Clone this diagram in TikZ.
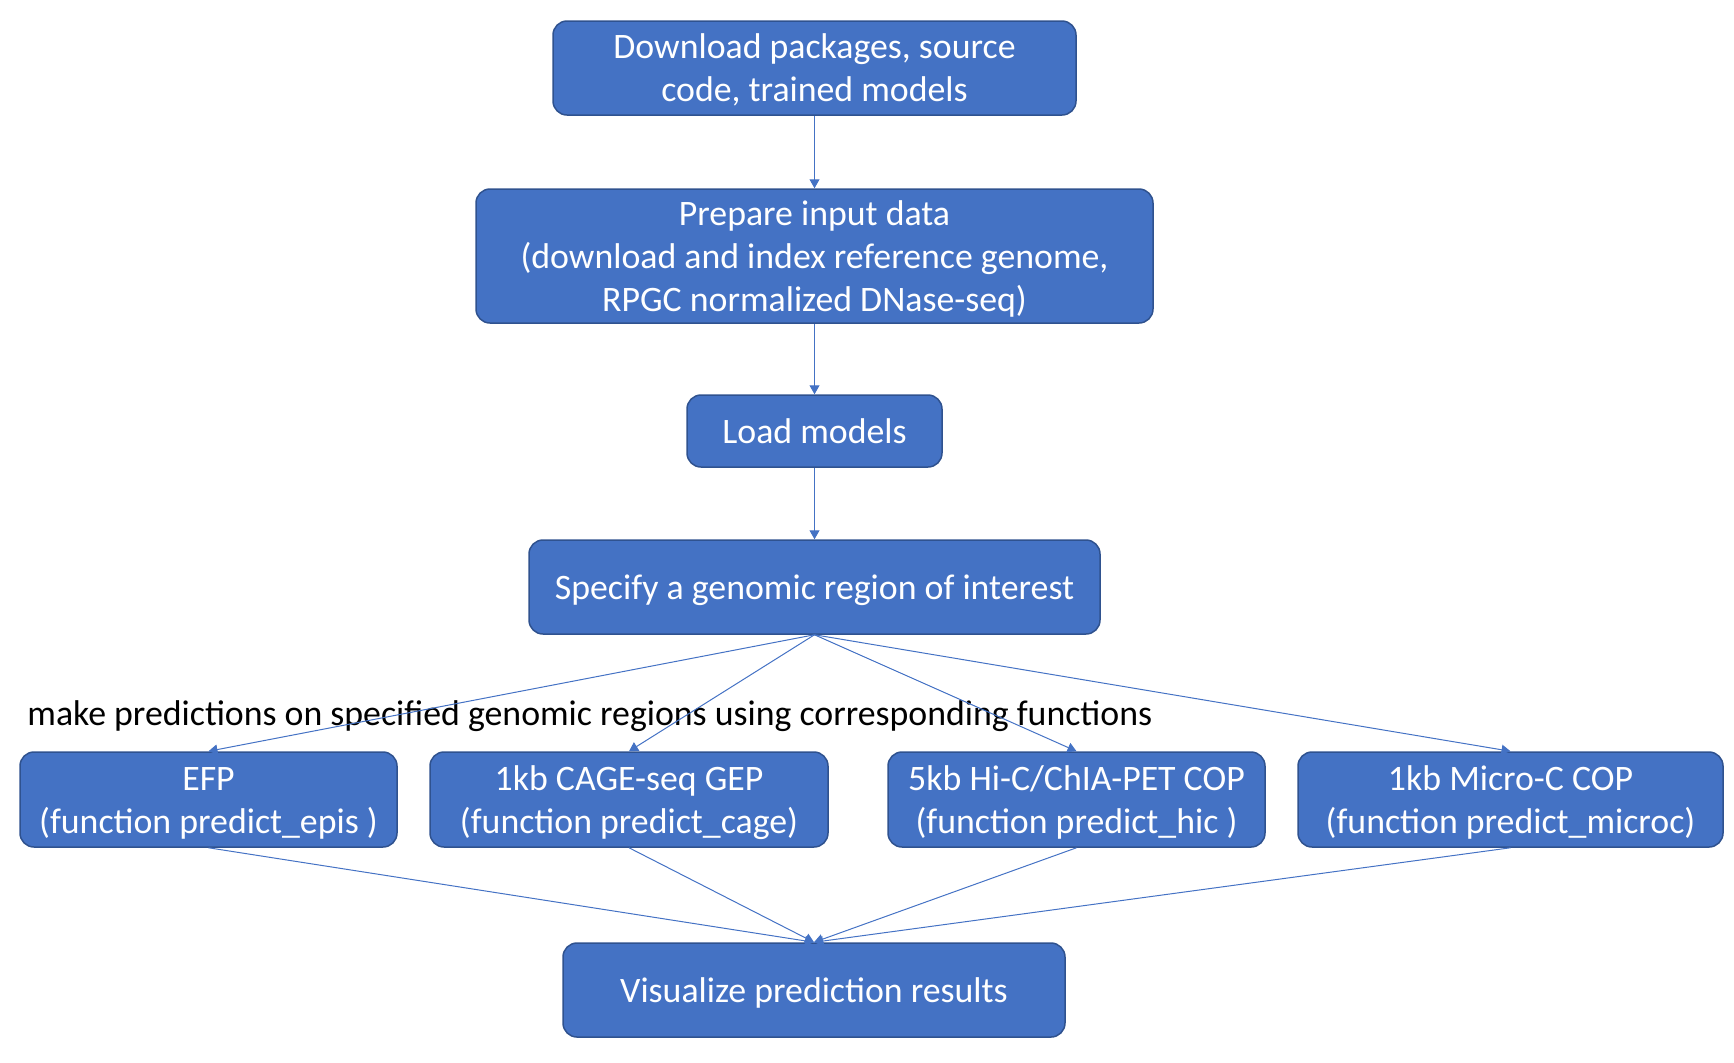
\documentclass[tikz,border=0pt]{standalone}
\usepackage{fontspec}
\setmainfont{Carlito}
\usetikzlibrary{arrows.meta}
\definecolor{boxblue}{HTML}{4472C4}
\definecolor{boxedge}{HTML}{2F528F}
\newcommand{\bxt}[1]{\raisebox{-1.7pt}[\height][\depth]{\begin{tabular}{@{}c@{}}#1\end{tabular}}}
\begin{document}
\begin{tikzpicture}[x=0.5pt,y=-0.5pt,
 box/.style={draw=boxedge, line width=0.75pt, fill=boxblue, rounded corners=7pt, text=white, align=center, font=\fontsize{17.9}{21.5}\selectfont, inner sep=0pt},
 conn/.style={draw=boxblue, line width=0.5pt, -{Triangle[width=5pt,length=4.5pt]}},
 lbl/.style={font=\fontsize{17.9}{21.5}\selectfont, text=black, inner sep=0pt}]
\useasboundingbox (0,0) rectangle (1734,1062);
\node[box, minimum width=261.5pt, minimum height=47pt] (dl) at (814.5,68) {\bxt{Download packages, source\\code, trained models}};
\node[box, minimum width=338.5pt, minimum height=67pt] (prep) at (814.5,256) {\bxt{Prepare input data\\(download and index reference genome,\\RPGC normalized DNase-seq)}};
\node[box, minimum width=127.5pt, minimum height=36pt] (load) at (814.5,431) {\bxt{Load models}};
\node[box, minimum width=285.5pt, minimum height=47pt] (spec) at (814.5,587) {\bxt{Specify a genomic region of interest}};
\node[box, minimum width=188.5pt, minimum height=47.5pt] (efp) at (208.5,799.5) {\bxt{EFP\\(function predict\_epis )}};
\node[box, minimum width=199pt, minimum height=47.5pt] (cage) at (629,799.5) {\bxt{1kb CAGE-seq GEP\\(function predict\_cage)}};
\node[box, minimum width=188.5pt, minimum height=47.5pt] (hic) at (1076.5,799.5) {\bxt{5kb Hi-C/ChIA-PET COP\\(function predict\_hic )}};
\node[box, minimum width=212.5pt, minimum height=47.5pt] (micro) at (1510.5,799.5) {\bxt{1kb Micro-C COP\\(function predict\_microc)}};
\node[box, minimum width=251pt, minimum height=47pt] (vis) at (814,990) {\bxt{Visualize prediction results}};
\node[lbl, anchor=west] (note) at (27,716) {make predictions on specified genomic regions using corresponding functions};
\draw[conn] (dl.south) -- (prep.north);
\draw[conn] (prep.south) -- (load.north);
\draw[conn] (load.south) -- (spec.north);
\draw[conn] (spec.south) -- (efp.north);
\draw[conn] (spec.south) -- (cage.north);
\draw[conn] (spec.south) -- (hic.north);
\draw[conn] (spec.south) -- (micro.north);
\draw[conn] (efp.south) -- (vis.north);
\draw[conn] (cage.south) -- (vis.north);
\draw[conn] (hic.south) -- (vis.north);
\draw[conn] (micro.south) -- (vis.north);
\end{tikzpicture}
\end{document}
